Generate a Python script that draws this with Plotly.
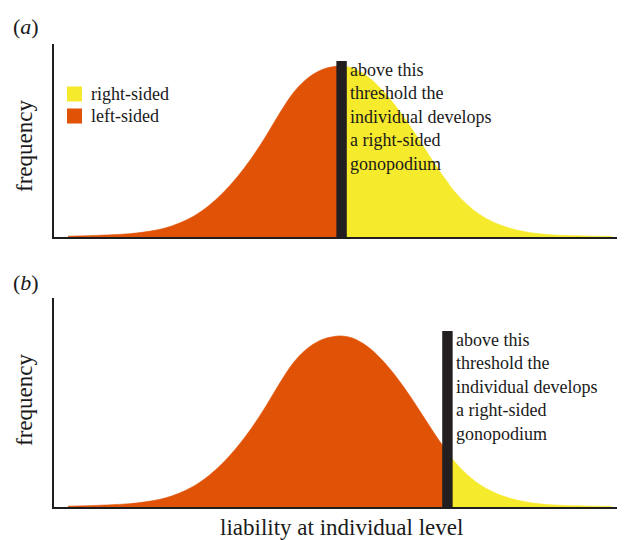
import plotly.graph_objects as go

# liability (in SD units) and frequency (curve height)
liability = [-3.75, -3.4, -3.0, -2.8, -2.6, -2.4, -2.2, -2.0, -1.8, -1.6,
             -1.4, -1.2, -1.0, -0.8, -0.6, -0.4, -0.2, 0.0, 0.05, 0.2,
             0.4, 0.6, 0.8, 1.0, 1.2, 1.4, 1.52, 1.6, 1.8, 2.0,
             2.2, 2.4, 2.6, 2.8, 3.0, 3.4, 3.8]
frequency = [0.8, 1.5, 2.8, 4, 6, 9, 14, 21, 31, 44,
             60, 79, 101, 125, 146, 160, 168, 171, 171, 169,
             161, 148, 131, 111, 89, 67, 55, 47, 32, 21,
             13.5, 8.5, 5.2, 3.2, 2, 1.1, 0.6]

threshold_a = 0.05
threshold_b = 1.52
bar_height = 176
bar_width = 0.145
legend_labels = ["right-sided", "left-sided"]
panel_labels = ["(<i>a</i>)", "(<i>b</i>)"]
note = "above this<br>threshold the<br>individual develops<br>a right-sided<br>gonopodium"
y_label = "frequency"
x_label = "liability at individual level"

ORANGE = "#e05206"
YELLOW = "#f6ea2c"
DARK = "#231f20"
TEXT = "#1a1a1a"
FONT = "Liberation Serif"

# the page adds an 8px body margin, so the figure is laid out 8px smaller
OFF = 8
W, H = 625 - OFF, 540 - OFF
REF_L, REF_T, REF_B = 54, 44, 507          # plot-area edges in the reference
ML, MR, MT = REF_L - OFF, 0, REF_T - OFF
MB = H - (REF_B - OFF)
plot_w = W - ML - MR
plot_h = H - MT - MB


def py(p):
    return (REF_B - p) / plot_h


def px(p):
    return (p - REF_L) / plot_w


fig = go.Figure()


def panel(thr, xa, ya):
    left = [(x, y) for x, y in zip(liability, frequency) if x <= thr]
    right = [(x, y) for x, y in zip(liability, frequency) if x >= thr]
    fig.add_trace(go.Scatter(x=[p[0] for p in right], y=[p[1] for p in right],
                             mode="lines",
                             line=dict(width=0.6, shape="spline", smoothing=1.0, color=YELLOW),
                             fill="tozeroy", fillcolor=YELLOW, showlegend=False,
                             hoverinfo="skip", xaxis=xa, yaxis=ya))
    fig.add_trace(go.Scatter(x=[p[0] for p in left], y=[p[1] for p in left],
                             mode="lines",
                             line=dict(width=0.6, shape="spline", smoothing=1.0, color=ORANGE),
                             fill="tozeroy", fillcolor=ORANGE, showlegend=False,
                             hoverinfo="skip", xaxis=xa, yaxis=ya))
    fig.add_shape(type="rect", xref=xa, yref=ya,
                  x0=thr - bar_width / 2, x1=thr + bar_width / 2, y0=0, y1=bar_height,
                  fillcolor=DARK, line=dict(width=0), layer="above")
    fig.add_annotation(x=thr + bar_width / 2, y=bar_height, xref=xa, yref=ya,
                       text=note, showarrow=False, xanchor="left", yanchor="top",
                       align="left", xshift=1, yshift=3,
                       font=dict(family=FONT, size=18, color=TEXT))


panel(threshold_a, "x", "y")
panel(threshold_b, "x2", "y2")

# legend: swatches and labels
for lab, col, yc in zip(legend_labels, [YELLOW, ORANGE], [94, 116]):
    fig.add_shape(type="rect", xref="paper", yref="paper",
                  x0=px(67), x1=px(82), y0=py(yc + 7.5), y1=py(yc - 7.5),
                  fillcolor=col, line=dict(width=0), layer="above")
    fig.add_annotation(x=px(89), y=py(yc), xref="paper", yref="paper", text=lab,
                       showarrow=False, xanchor="left", yanchor="middle",
                       font=dict(family=FONT, size=18, color=TEXT))

xr = [-3.944, 3.986]
axis_common = dict(showgrid=False, zeroline=False, showticklabels=False, ticks="",
                   showline=True, linecolor="#1e1e1e", linewidth=2, fixedrange=True)

fig.update_layout(
    width=W, height=H,
    margin=dict(l=ML, r=MR, t=MT, b=MB),
    paper_bgcolor="white", plot_bgcolor="white",
    xaxis=dict(domain=[0, 1], range=xr, anchor="y", **axis_common),
    yaxis=dict(domain=[py(237), 1], range=[0, 193], anchor="x", **axis_common),
    xaxis2=dict(domain=[0, 1], range=xr, anchor="y2", **axis_common),
    yaxis2=dict(domain=[0, py(298)], range=[0, 209], anchor="x2", **axis_common),
    showlegend=False,
)

# panel labels
for lab, yp in zip(panel_labels, [27, 282]):
    fig.add_annotation(x=px(26), y=py(yp), xref="paper", yref="paper", text=lab,
                       showarrow=False, xanchor="center", yanchor="middle",
                       font=dict(family=FONT, size=22, color=TEXT))

# y labels
for yp in [146, 400]:
    fig.add_annotation(x=px(24), y=py(yp), xref="paper", yref="paper", text=y_label,
                       showarrow=False, xanchor="center", yanchor="middle", textangle=-90,
                       font=dict(family=FONT, size=23, color=TEXT))

# x label
fig.add_annotation(x=px(341), y=py(527), xref="paper", yref="paper", text=x_label,
                   showarrow=False, xanchor="center", yanchor="middle",
                   font=dict(family=FONT, size=23, color=TEXT))

fig.write_html("out.html")
